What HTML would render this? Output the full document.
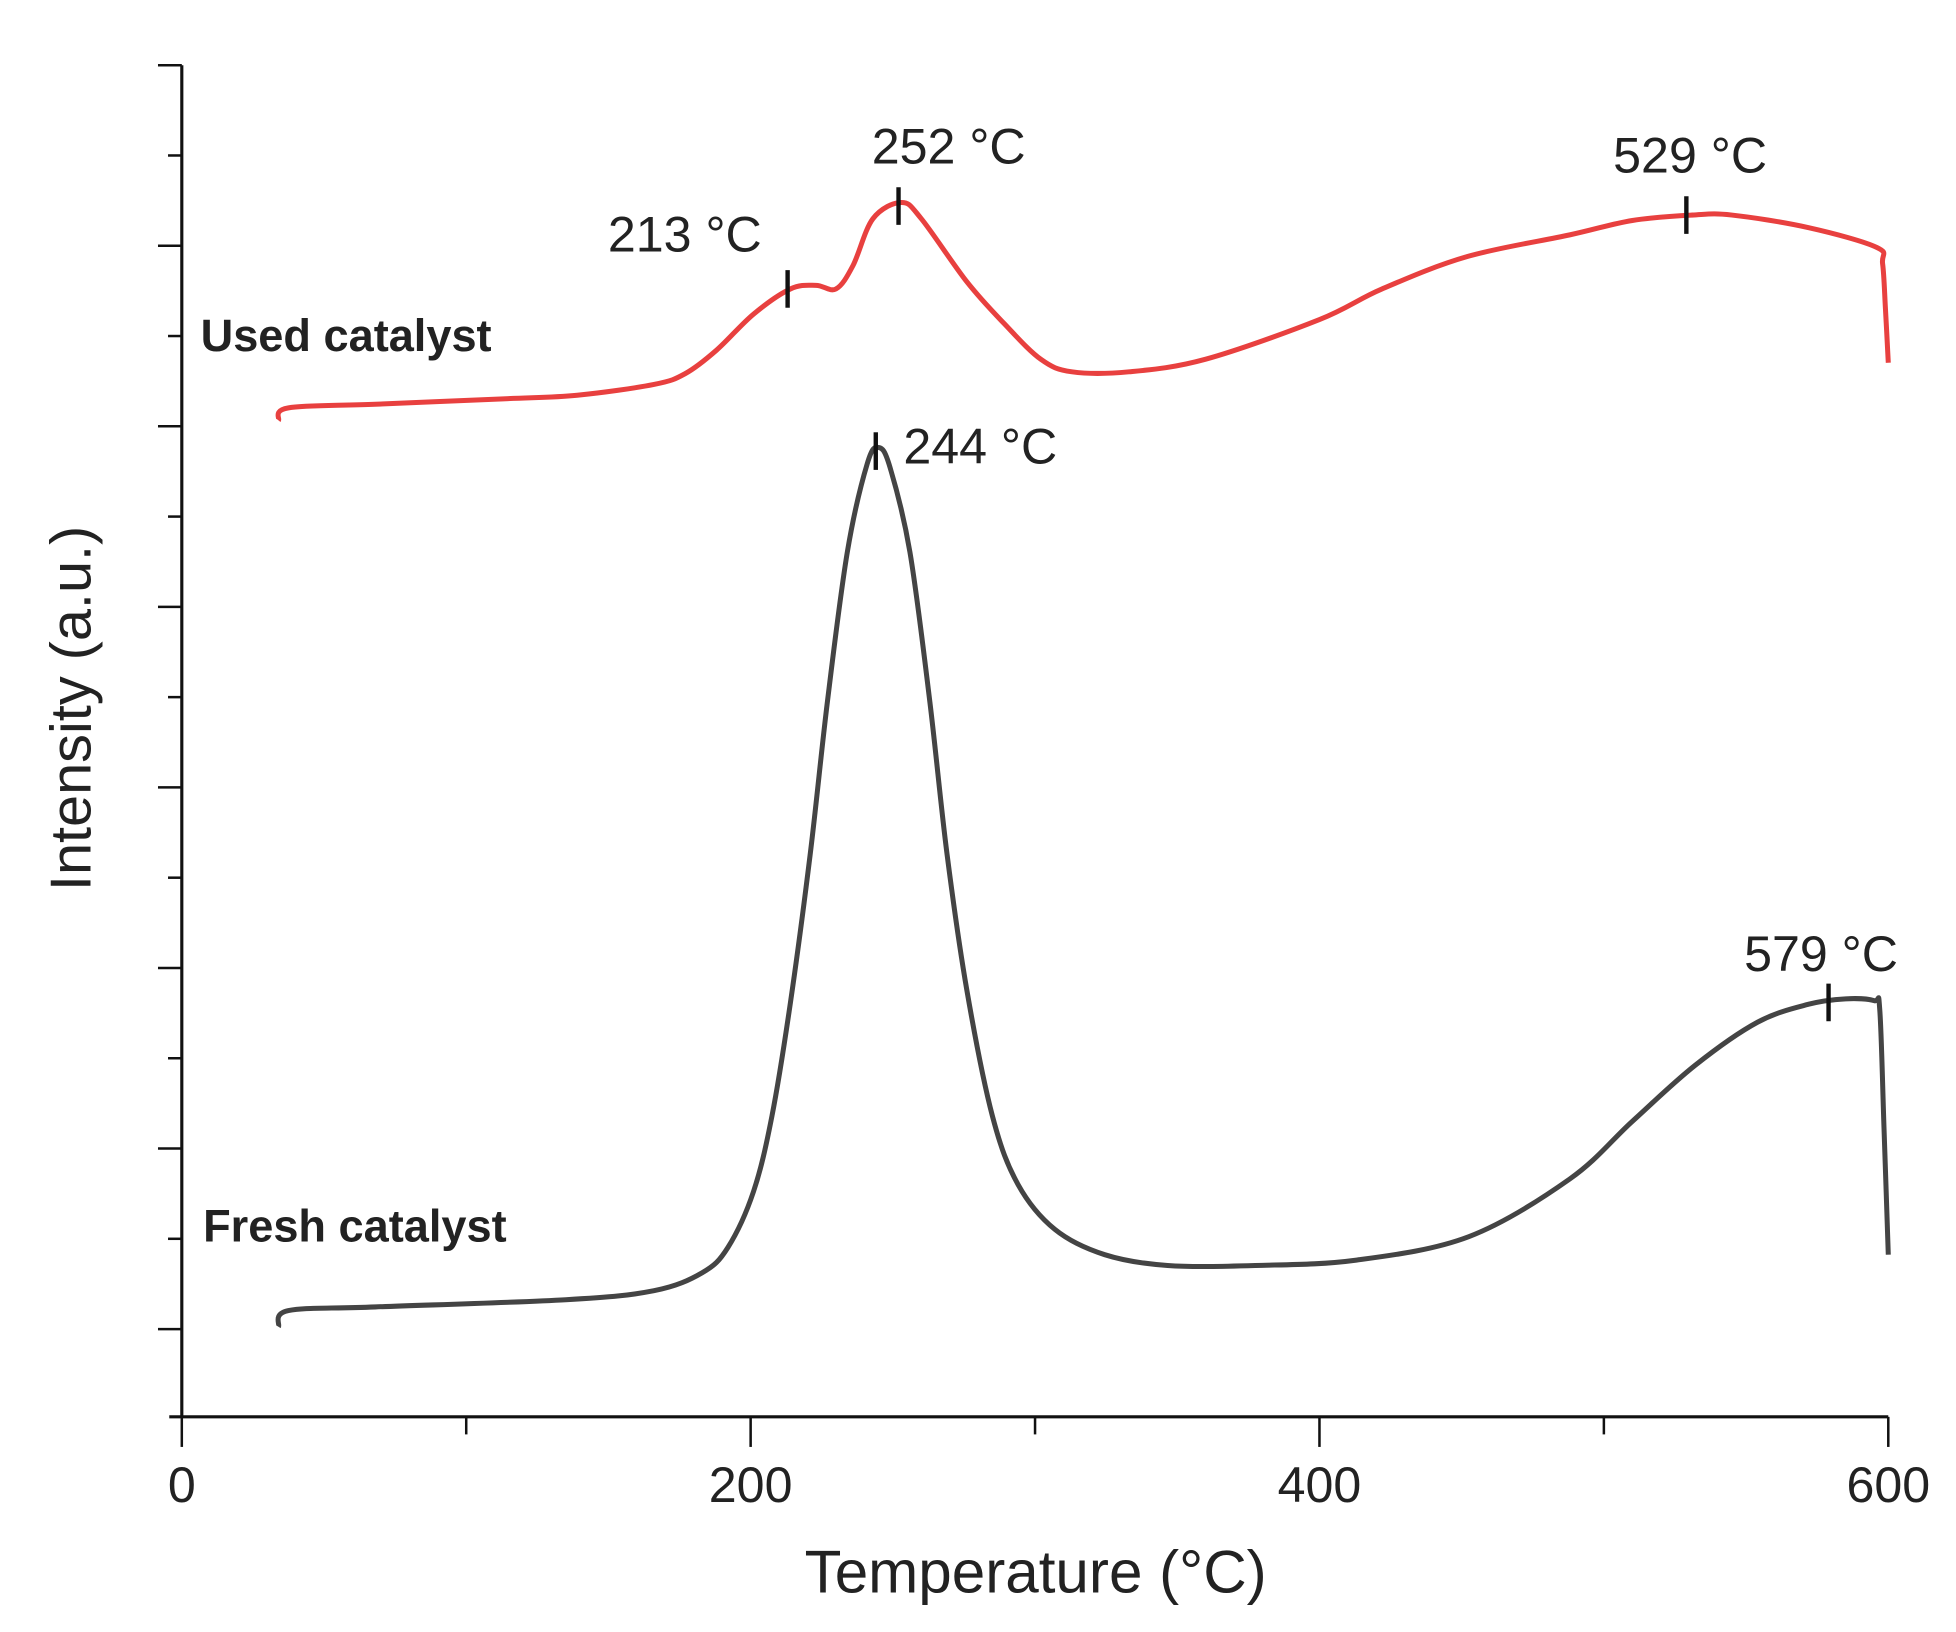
<!DOCTYPE html>
<html><head><meta charset="utf-8"><style>
html,body{margin:0;padding:0;background:#fff;width:1956px;height:1632px;overflow:hidden}
svg{display:block}
text{font-family:"Liberation Sans",sans-serif;fill:#222}
</style></head><body>
<svg id="chart" width="1956" height="1632" viewBox="0 0 1560 1301.6" xmlns="http://www.w3.org/2000/svg">
<g id="axes"></g>
<g id="series"></g>
<g id="ann"></g>
<text x="826" y="1270" font-size="48" text-anchor="middle">Temperature (°C)</text>
<text transform="translate(72,565) rotate(-90)" font-size="46" text-anchor="middle">Intensity (a.u.)</text>
<text x="160" y="280" font-size="36" font-weight="bold">Used catalyst</text>
<text x="162" y="990" font-size="36" font-weight="bold">Fresh catalyst</text>
</svg>
<script>
const xTicks = [0, 200, 400, 600];
const xMinor = [100, 300, 500];
const usedT = [34,37.5,68,113,139,166,177,188,201,214,223,230,236,243,253,260,276,289,302,313,333,360,400,422,452,488,510,531,545,572,596,598,599,600];
const usedV = [55.3,56.0,56.2,56.5,56.7,57.3,57.9,59.2,61.2,62.6,62.8,62.6,63.9,66.5,67.4,66.5,63.0,60.7,58.7,58.0,58.0,58.7,60.9,62.6,64.4,65.6,66.4,66.7,66.7,66.0,64.9,64.0,61.5,58.5];
const freshT = [34,37.5,68,135,166,183,192,201,207.5,214,221,227,234,241,245,249,256,263,269,276,285,294,307,324.5,346.6,377.5,413,452.5,488,510,532,554,572,585,595,597,598.5,600];
const freshV = [5.0,5.9,6.1,6.5,7.0,8.0,9.4,12.5,16.7,23.0,31.3,39.7,48.0,52.9,53.8,52.7,48.0,39.7,31.3,23.7,16.7,12.9,10.4,9.0,8.4,8.4,8.7,10.0,13.2,16.4,19.5,21.9,22.9,23.2,23.1,22.6,16.0,9.0];
const peakLabels = ["213 °C","252 °C","529 °C","244 °C","579 °C"];
const peakT = [213,252,529,244,579];
const peakV = [62.6,67.2,66.7,53.6,23.0];

const NS="http://www.w3.org/2000/svg";
const X0=145, XS=(1506-145)/600, Y0=1130, YS=14.37;
const sx=t=>X0+t*XS, sy=v=>Y0-v*YS;
function mk(tag,attrs,parent){const e=document.createElementNS(NS,tag);for(const k in attrs)e.setAttribute(k,attrs[k]);parent.appendChild(e);return e;}
const axes=document.getElementById('axes');
let e=mk('line',{x1:X0,y1:52,x2:X0,y2:Y0,stroke:'#111','stroke-width':2.5},axes);


e=mk('line',{x1:135,y1:Y0,x2:sx(600),y2:Y0,stroke:'#111','stroke-width':2.5},axes);


xTicks.forEach(t=>{
  let l=mk('line',{x1:sx(t),y1:Y0,x2:sx(t),y2:Y0+24,stroke:'#111','stroke-width':2},axes);
  
  
  let tx=mk('text',{x:sx(t),y:1198,'font-size':40,'text-anchor':'middle'},axes);
  tx.textContent=t;
  
  
});
xMinor.forEach(t=>{
  let l=mk('line',{x1:sx(t),y1:Y0,x2:sx(t),y2:Y0+14,stroke:'#111','stroke-width':2},axes);
  
  
});
for(let i=0;i<15;i++){
  const y=52+i*(1060-52)/14;
  const major=i%2===0;
  let l=mk('line',{x1:major?126:134,y1:y,x2:X0,y2:y,stroke:'#111','stroke-width':2},axes);
  
  
}
function path(T,V){
  const p=T.map((t,i)=>[sx(t),sy(V[i])]);
  let d='M'+p[0][0]+','+p[0][1];
  for(let i=0;i<p.length-1;i++){
    const p0=p[Math.max(0,i-1)],p1=p[i],p2=p[i+1],p3=p[Math.min(p.length-1,i+2)];
    const c1=[p1[0]+(p2[0]-p0[0])/6,p1[1]+(p2[1]-p0[1])/6];
    const c2=[p2[0]-(p3[0]-p1[0])/6,p2[1]-(p3[1]-p1[1])/6];
    d+=` C${c1[0]},${c1[1]} ${c2[0]},${c2[1]} ${p2[0]},${p2[1]}`;
  }
  return d;
}
const series=document.getElementById('series');
e=mk('path',{d:path(usedT,usedV),fill:'none',stroke:'#e8403f','stroke-width':4,'stroke-linejoin':'round'},series);


e=mk('path',{d:path(freshT,freshV),fill:'none',stroke:'#444','stroke-width':4,'stroke-linejoin':'round'},series);


const ann=document.getElementById('ann');
const offs=[[-82,-30,'middle'],[40,-34,'middle'],[3,-34,'middle'],[22,10,'start'],[-6,-25,'middle']];
peakT.forEach((t,i)=>{
  const x=sx(t),y=sy(peakV[i]);
  let l=mk('line',{x1:x,y1:y-15,x2:x,y2:y+15,stroke:'#111','stroke-width':3.5},ann);
  
  
  const o=offs[i];
  let tx=mk('text',{x:x+o[0],y:y+o[1],'font-size':40,'text-anchor':o[2]},ann);
  tx.textContent=peakLabels[i];
  
  
});
</script>
</body></html>
